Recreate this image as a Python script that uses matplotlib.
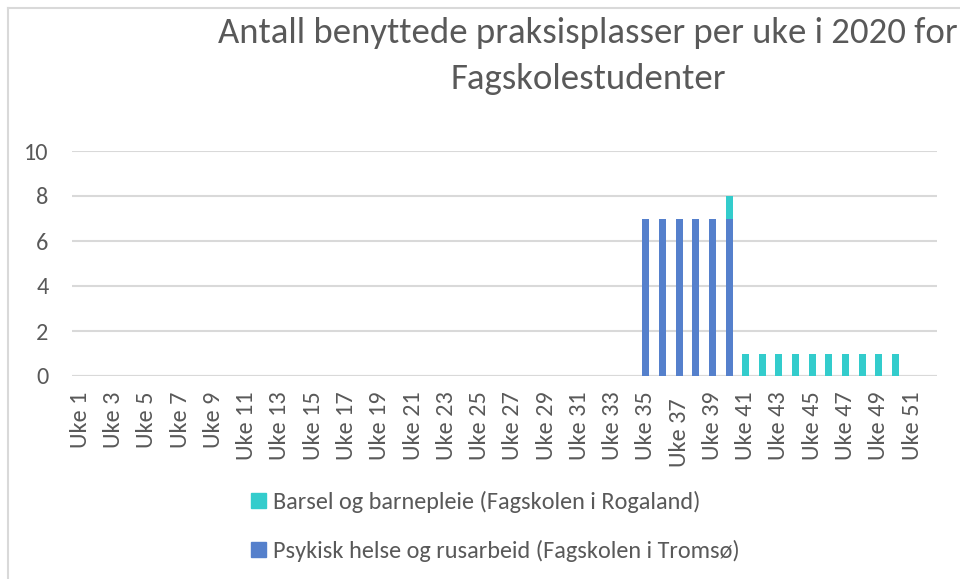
import matplotlib
matplotlib.use("Agg")
import matplotlib.pyplot as plt
from matplotlib.lines import Line2D
from matplotlib.patches import Patch
from matplotlib.transforms import ScaledTranslation
import numpy as np

plt.rcParams['font.family'] = ['Carlito', 'Lato', 'DejaVu Sans']

weeks = [f"Uke {i}" for i in range(1, 53)]
psykisk = [0]*34 + [7, 7, 7, 7, 7, 7] + [0]*12
barsel = [0]*39 + [1] + [1]*10 + [0, 0]
series_names = ["Barsel og barnepleie (Fagskolen i Rogaland)",
                "Psykisk helse og rusarbeid (Fagskolen i Tromsø)"]
title = "Antall benyttede praksisplasser per uke i 2020 for\nFagskolestudenter"

C_BLUE = "#5580CC"
C_TEAL = "#33CCCC"
TXT = "#595959"
GRID = "#D9D9D9"

fig = plt.figure(figsize=(9.6, 5.79), dpi=100)
ax = fig.add_axes([72/960, 1-376/579, (937-72)/960, (376-151)/579])

x = np.arange(len(weeks))
ax.bar(x, psykisk, width=0.42, color=C_BLUE, zorder=3)
ax.bar(x, barsel, width=0.42, bottom=psykisk, color=C_TEAL, zorder=3)

ax.set_xlim(-0.5, len(weeks)-0.5)
ax.set_ylim(0, 10)
ax.set_yticks(range(0, 11, 2))
ax.yaxis.grid(True, color=GRID, linewidth=1.5, zorder=0)
for s in ax.spines.values():
    s.set_visible(False)
ax.axhline(0, color=GRID, linewidth=1.5, zorder=2)

ax.set_xticks(x[::2])
ax.set_xticklabels(weeks[::2], rotation=90, va='top', ha='center')
ax.tick_params(axis='x', length=0, pad=11, labelsize=17.5, labelcolor=TXT)
ax.tick_params(axis='y', length=0, pad=17, labelsize=17.5, labelcolor=TXT)

for lab in ax.get_xticklabels():
    if lab.get_text() == "Uke 37":
        lab.set_transform(lab.get_transform() + ScaledTranslation(0, -7/100, fig.dpi_scale_trans))

fig.text(588/960, 1-17/579, title, ha='center', va='top', fontsize=26.5,
         color=TXT, linespacing=1.55)

handles = [Patch(color=C_TEAL), Patch(color=C_BLUE)]
fig.legend(handles, series_names, loc='upper left', bbox_to_anchor=(239/960, 1-479/579),
           frameon=False, fontsize=17.5, labelcolor=TXT, handlelength=0.6, handleheight=0.6,
           handletextpad=0.3, labelspacing=1.1, borderpad=0)

fig.add_artist(Line2D([7.5/960, 7.5/960], [0, 1-7.5/579], color=GRID, linewidth=1.5,
                      transform=fig.transFigure))
fig.add_artist(Line2D([7.5/960, 1], [1-7.5/579, 1-7.5/579], color=GRID, linewidth=1.5,
                      transform=fig.transFigure))

fig.savefig("out.png", dpi=100)
